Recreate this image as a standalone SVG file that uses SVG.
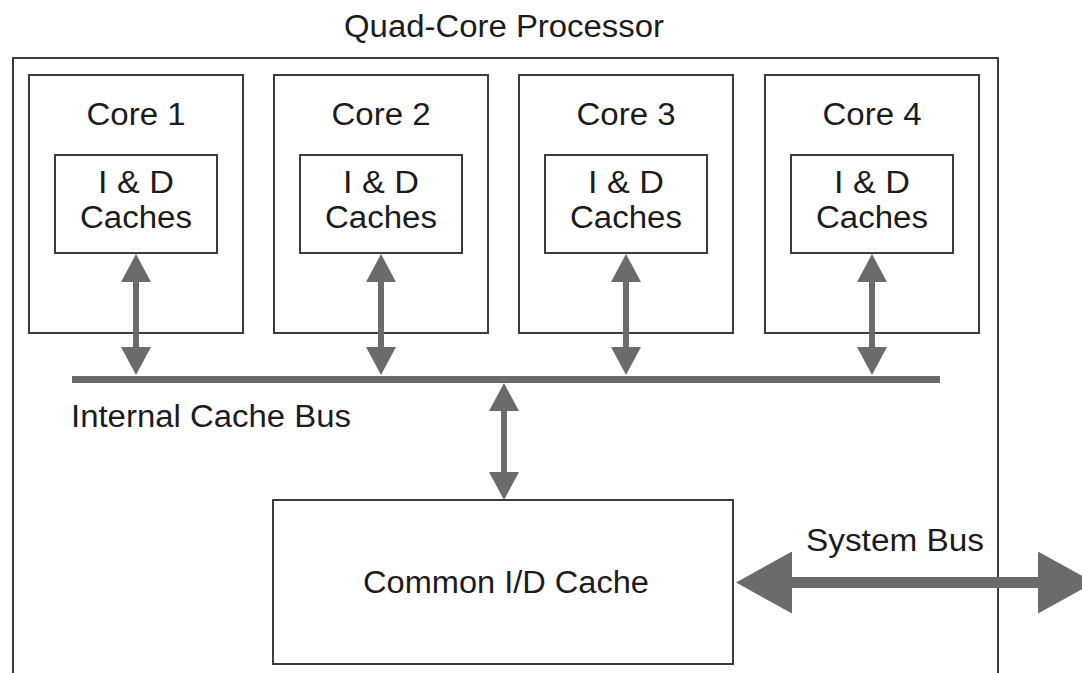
<svg xmlns="http://www.w3.org/2000/svg" width="1082" height="673" viewBox="0 0 1082 673">
  <style>
    .box { fill: #ffffff; stroke: #3c3c3c; stroke-width: 2; }
    .lbl { font-family: "Liberation Sans", Arial, sans-serif; font-size: 31px; fill: #1c1c1c; }
    .mid { text-anchor: middle; }
    .bus { stroke: #6b6b6b; fill: none; }
  </style>
  <defs>
    <marker id="head" viewBox="0 -15 28 30" refX="1" refY="0" markerUnits="userSpaceOnUse" markerWidth="28" markerHeight="30" orient="auto-start-reverse">
      <path d="M0,-15 L28,0 L0,15 Z" fill="#6b6b6b"/>
    </marker>
    <marker id="bighead" viewBox="0 -31 56 62" refX="1" refY="0" markerUnits="userSpaceOnUse" markerWidth="56" markerHeight="62" orient="auto-start-reverse">
      <path d="M0,-31 L56,0 L0,31 Z" fill="#6b6b6b"/>
    </marker>
  </defs>
  <rect width="1082" height="673" fill="#ffffff"/>

  <text class="lbl mid" x="504" y="37" textLength="320" lengthAdjust="spacingAndGlyphs">Quad-Core Processor</text>

  <g id="processor">
    <rect class="box" x="13" y="58" width="985" height="630"/>
  </g>

  <g id="core1">
    <rect class="box" x="29" y="75" width="214" height="258"/>
    <text class="lbl mid" x="136" y="125" textLength="99" lengthAdjust="spacingAndGlyphs">Core 1</text>
    <rect class="box" x="55" y="155" width="162" height="98"/>
    <text class="lbl mid" x="136" y="193" textLength="76" lengthAdjust="spacingAndGlyphs">I &amp; D</text>
    <text class="lbl mid" x="136" y="228" textLength="112" lengthAdjust="spacingAndGlyphs">Caches</text>
  </g>
  <g id="core2">
    <rect class="box" x="274" y="75" width="214" height="258"/>
    <text class="lbl mid" x="381" y="125" textLength="99" lengthAdjust="spacingAndGlyphs">Core 2</text>
    <rect class="box" x="300" y="155" width="162" height="98"/>
    <text class="lbl mid" x="381" y="193" textLength="76" lengthAdjust="spacingAndGlyphs">I &amp; D</text>
    <text class="lbl mid" x="381" y="228" textLength="112" lengthAdjust="spacingAndGlyphs">Caches</text>
  </g>
  <g id="core3">
    <rect class="box" x="519" y="75" width="214" height="258"/>
    <text class="lbl mid" x="626" y="125" textLength="99" lengthAdjust="spacingAndGlyphs">Core 3</text>
    <rect class="box" x="545" y="155" width="162" height="98"/>
    <text class="lbl mid" x="626" y="193" textLength="76" lengthAdjust="spacingAndGlyphs">I &amp; D</text>
    <text class="lbl mid" x="626" y="228" textLength="112" lengthAdjust="spacingAndGlyphs">Caches</text>
  </g>
  <g id="core4">
    <rect class="box" x="765" y="75" width="214" height="258"/>
    <text class="lbl mid" x="872" y="125" textLength="99" lengthAdjust="spacingAndGlyphs">Core 4</text>
    <rect class="box" x="791" y="155" width="162" height="98"/>
    <text class="lbl mid" x="872" y="193" textLength="76" lengthAdjust="spacingAndGlyphs">I &amp; D</text>
    <text class="lbl mid" x="872" y="228" textLength="112" lengthAdjust="spacingAndGlyphs">Caches</text>
  </g>

  <g id="common-cache">
    <rect class="box" x="273" y="500" width="460" height="164"/>
    <text class="lbl mid" x="506" y="593" textLength="286" lengthAdjust="spacingAndGlyphs">Common I/D Cache</text>
  </g>

  <g id="internal-bus">
    <rect x="72" y="376" width="868" height="7" fill="#6b6b6b"/>
    <text class="lbl" x="71" y="427" textLength="280" lengthAdjust="spacingAndGlyphs">Internal Cache Bus</text>
  </g>

  <g id="connectors">
    <line class="bus" x1="136" y1="281" x2="136" y2="348" stroke-width="6" marker-start="url(#head)" marker-end="url(#head)"/>
    <line class="bus" x1="381" y1="281" x2="381" y2="348" stroke-width="6" marker-start="url(#head)" marker-end="url(#head)"/>
    <line class="bus" x1="626" y1="281" x2="626" y2="348" stroke-width="6" marker-start="url(#head)" marker-end="url(#head)"/>
    <line class="bus" x1="872" y1="281" x2="872" y2="348" stroke-width="6" marker-start="url(#head)" marker-end="url(#head)"/>
    <line class="bus" x1="504" y1="410" x2="504" y2="473" stroke-width="6" marker-start="url(#head)" marker-end="url(#head)"/>
    <line class="bus" x1="791" y1="582.5" x2="1039" y2="582.5" stroke-width="11" marker-start="url(#bighead)" marker-end="url(#bighead)"/>
  </g>
  <text class="lbl mid" x="895" y="551" textLength="178" lengthAdjust="spacingAndGlyphs">System Bus</text>
</svg>
